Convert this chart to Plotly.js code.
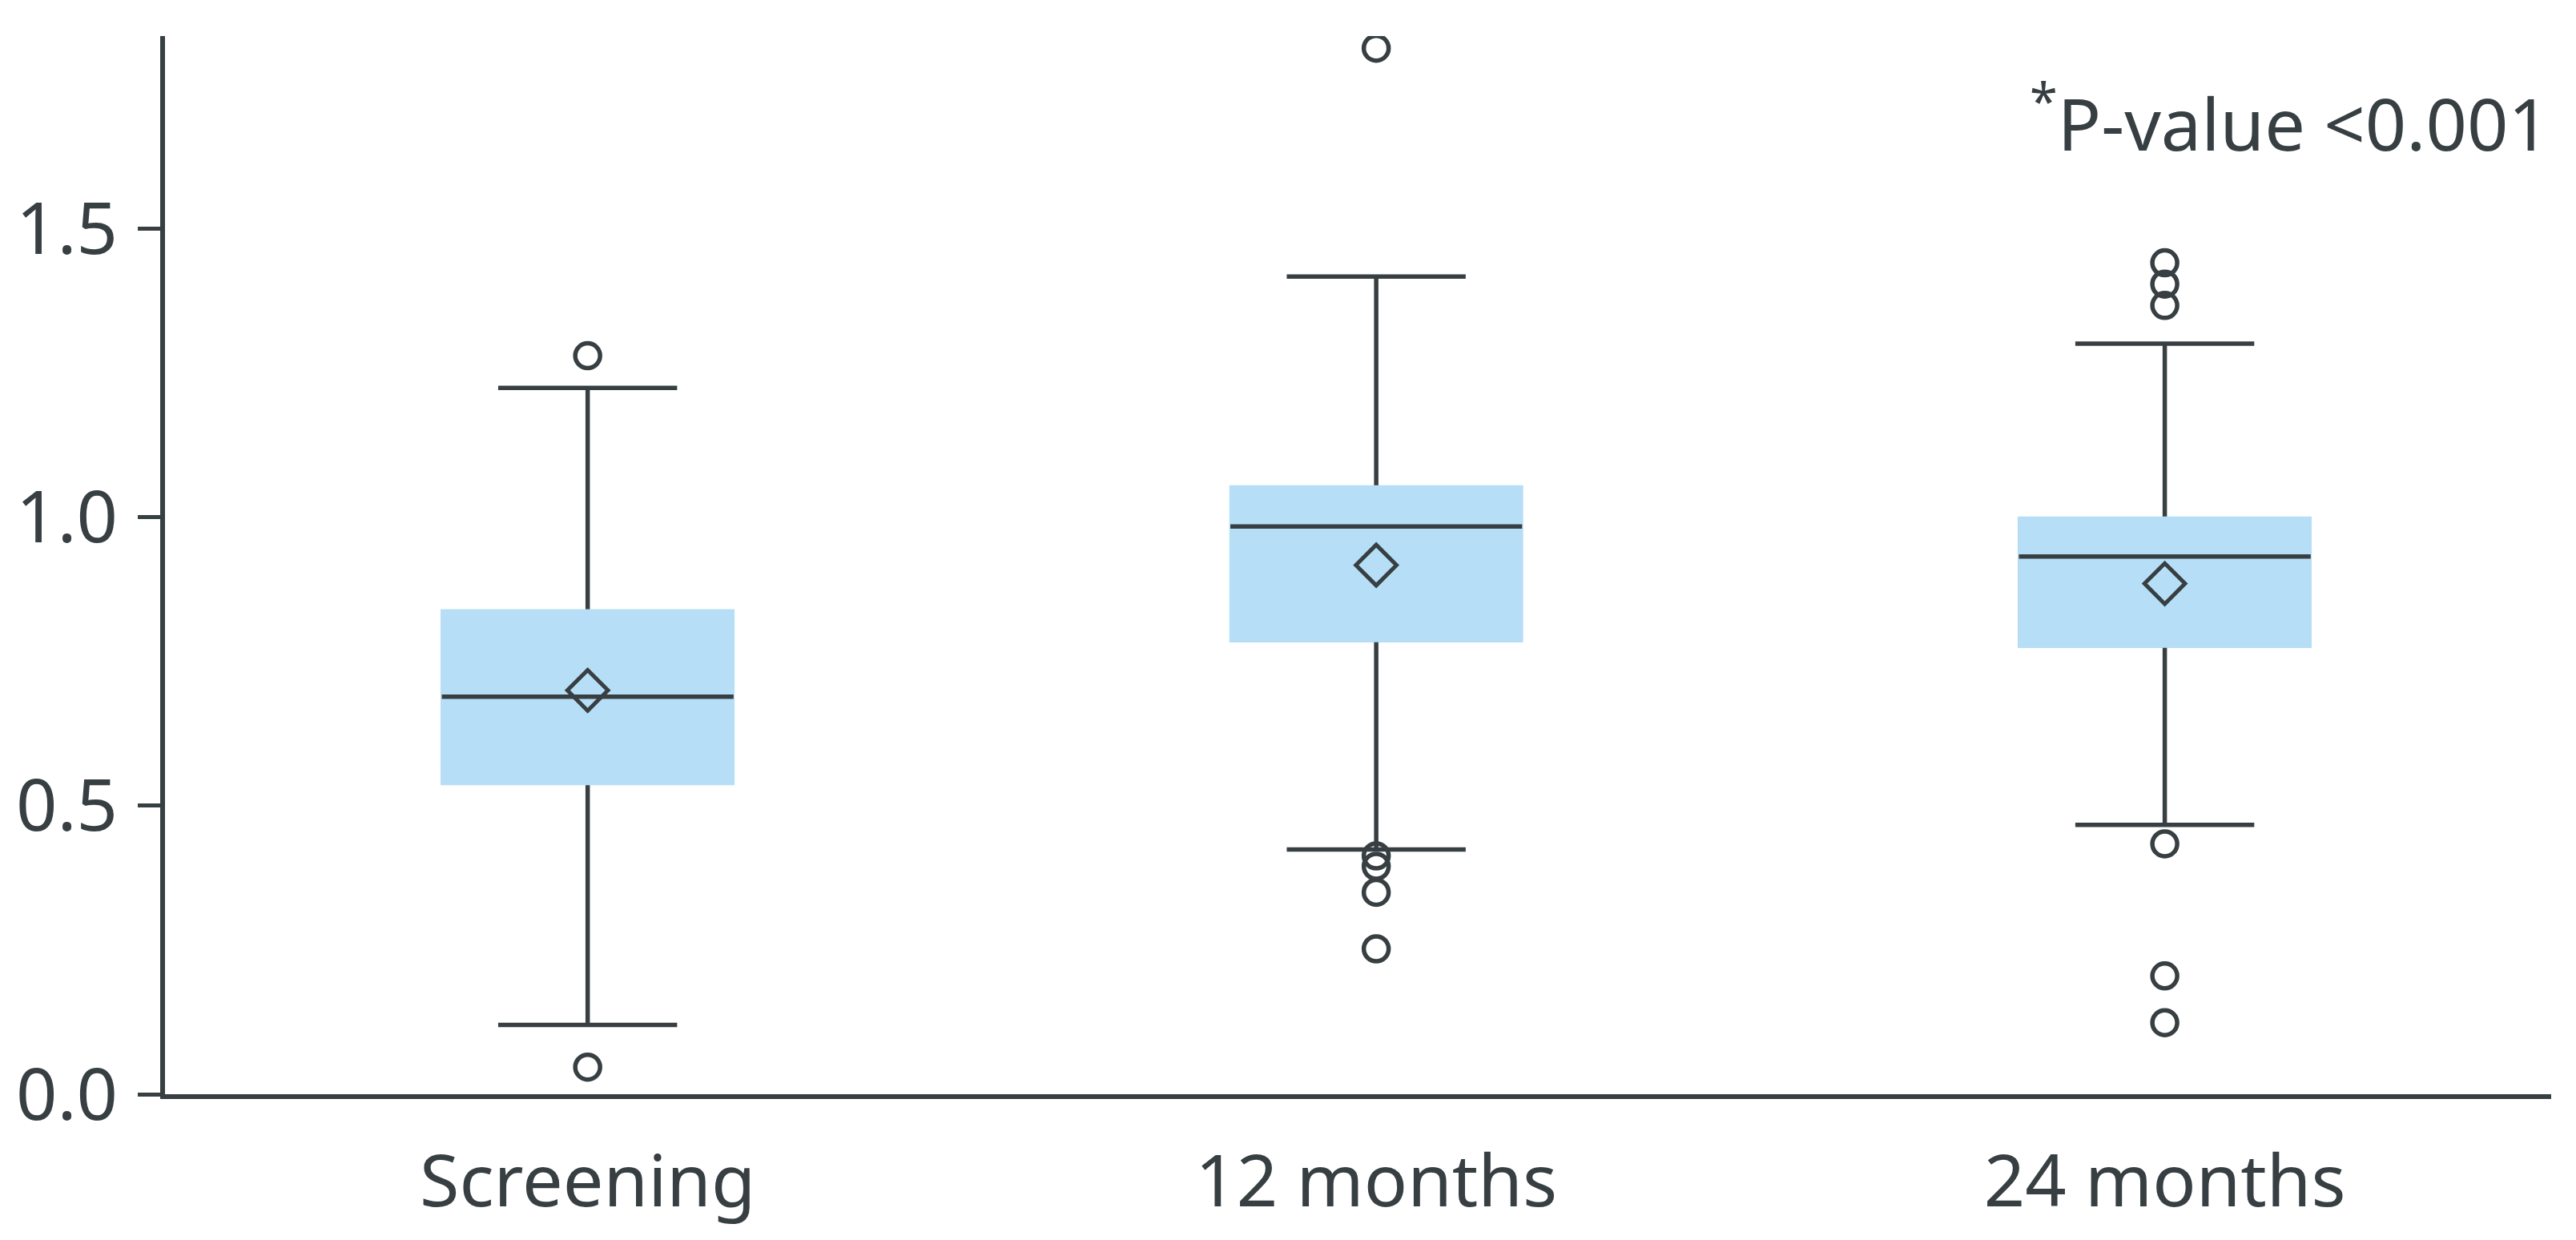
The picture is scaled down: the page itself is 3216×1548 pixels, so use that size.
<!DOCTYPE html>
<html>
<head>
<meta charset="utf-8">
<script src="https://cdn.plot.ly/plotly-3.0.1.min.js"></script>
<style>html,body{margin:0;padding:0;background:#fff;}#chart{width:3216px;height:1548px;}</style>
</head>
<body>
<div id="chart"></div>
<script>
const categories = ['Screening', '12 months', '24 months'];
const q1 = [0.540, 0.788, 0.778];
const median = [0.689, 0.984, 0.932];
const q3 = [0.836, 1.051, 0.997];
const lowerfence = [0.120, 0.424, 0.467];
const upperfence = [1.224, 1.417, 1.301];
const mean = [0.700, 0.917, 0.885];
const outliersScreening = [1.280, 0.047];
const outliers12 = [1.813, 0.413, 0.395, 0.350, 0.252];
const outliers24 = [1.441, 1.404, 1.367, 0.434, 0.205, 0.124];
const yTickVals = [0.0, 0.5, 1.0, 1.5];
const yTickText = ['0.0', '0.5', '1.0', '1.5'];
const annotationText = '<sup>*</sup>P-value <0.001';

const dark = '#373f42';
const fill = '#b6dff7';
const boxW = 0.366;
const wW = 0.62;

const whiskers = {
  type: 'box', x: categories, q1: q1, median: median, q3: q3,
  lowerfence: lowerfence, upperfence: upperfence,
  boxpoints: false, width: boxW, whiskerwidth: wW,
  line: {color: dark, width: 5.5}, fillcolor: 'rgba(0,0,0,0)',
  showlegend: false, hoverinfo: 'skip'
};
const boxFill = {
  type: 'box', x: categories, q1: q1, median: q1, q3: q3,
  lowerfence: q1, upperfence: q3,
  boxpoints: false, width: boxW, whiskerwidth: 0,
  line: {color: fill, width: 6.5}, fillcolor: fill,
  showlegend: false, hoverinfo: 'skip'
};
const medianLine = {
  type: 'box', x: categories, q1: median, median: median, q3: median,
  lowerfence: median, upperfence: median,
  boxpoints: false, width: boxW + 0.004, whiskerwidth: 0,
  line: {color: dark, width: 5.5}, fillcolor: 'rgba(0,0,0,0)',
  showlegend: false, hoverinfo: 'skip'
};
const meanMarkers = {
  type: 'scatter', mode: 'markers', x: categories, y: mean,
  marker: {symbol: 'diamond-open', size: 39, color: dark, line: {color: dark, width: 5}},
  showlegend: false, hoverinfo: 'skip'
};
const outX = [], outY = [];
[outliersScreening, outliers12, outliers24].forEach((arr, i) => {
  arr.forEach(v => { outX.push(categories[i]); outY.push(v); });
});
const outlierMarkers = {
  type: 'scatter', mode: 'markers', x: outX, y: outY,
  marker: {symbol: 'circle-open', size: 31, color: dark, line: {color: dark, width: 5.5}},
  showlegend: false, hoverinfo: 'skip'
};

const layout = {
  width: 3216, height: 1548,
  margin: {l: 206, r: 31, t: 45, b: 182, pad: 0},
  paper_bgcolor: '#ffffff', plot_bgcolor: '#ffffff',
  font: {family: '"Noto Sans", sans-serif', color: dark, size: 90},
  boxmode: 'overlay',
  showlegend: false,
  xaxis: {
    type: 'category', range: [-0.536, 2.49],
    showgrid: false, zeroline: false,
    showline: true, linecolor: dark, linewidth: 6,
    ticks: '', ticklabelstandoff: 26,
    tickfont: {size: 90, color: dark, family: '"Noto Sans", sans-serif'}
  },
  yaxis: {
    range: [0, 1.834], showgrid: false, zeroline: false,
    showline: true, linecolor: dark, linewidth: 6,
    ticks: 'outside', ticklen: 28, tickwidth: 5, tickcolor: dark,
    tickvals: yTickVals, ticktext: yTickText, ticklabelstandoff: 7,
    tickfont: {size: 90, color: dark, family: '"Noto Sans", sans-serif'}
  },
  annotations: [{
    xref: 'paper', yref: 'y', x: 1, y: 1.69, xanchor: 'right', yanchor: 'middle',
    text: annotationText, showarrow: false,
    font: {size: 90, color: dark, family: '"Noto Sans", sans-serif'}
  }]
};

Plotly.newPlot('chart', [whiskers, boxFill, medianLine, meanMarkers, outlierMarkers], layout, {displayModeBar: false, staticPlot: true});
</script>
</body>
</html>
